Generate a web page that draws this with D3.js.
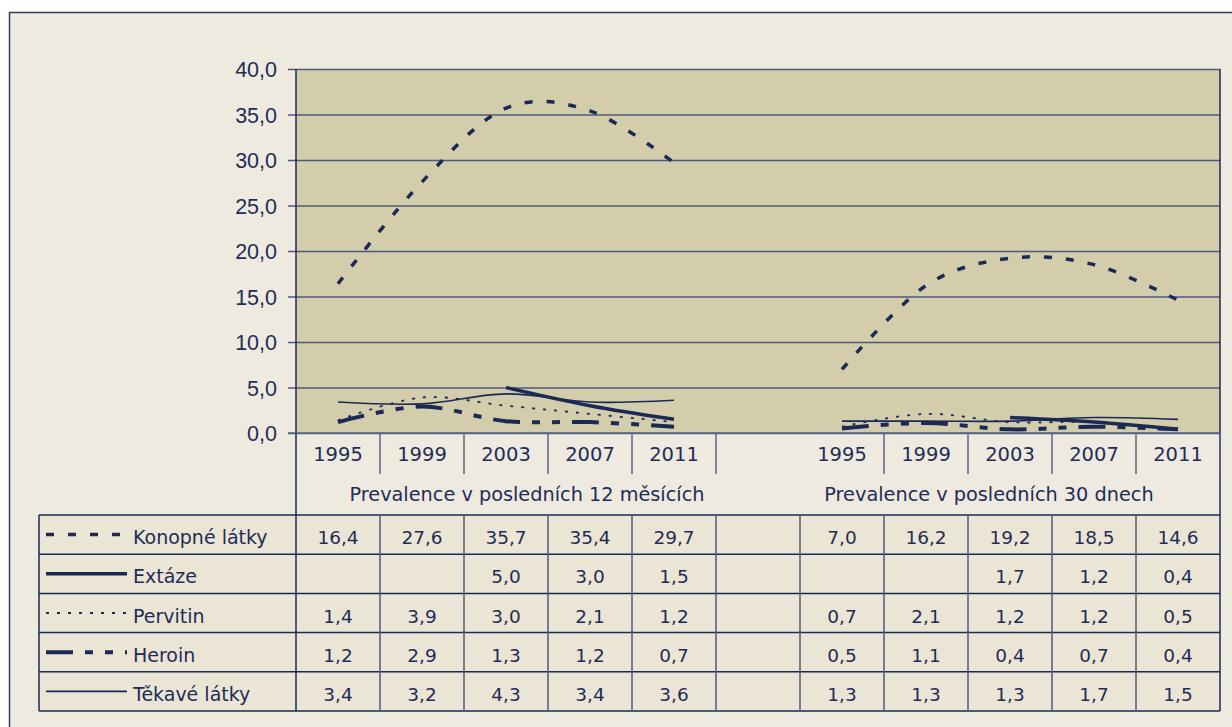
<!DOCTYPE html>
<html>
<head>
<meta charset="utf-8">
<script src="https://cdn.jsdelivr.net/npm/d3@7"></script>
<style>
  body { margin: 0; background: #ffffff; }
  svg { display: block; font-family: "DejaVu Sans", sans-serif; }
</style>
</head>
<body>
<svg id="chart" width="1232" height="727"></svg>
<script>
// data
var years = ["1995", "1999", "2003", "2007", "2011"];
var groups = ["Prevalence v posledních 12 měsících", "Prevalence v posledních 30 dnech"];
var seriesNames = ["Konopné látky", "Extáze", "Pervitin", "Heroin", "Těkavé látky"];

var konopne12 = [16.4, 27.6, 35.7, 35.4, 29.7];
var konopne30 = [7.0, 16.2, 19.2, 18.5, 14.6];
var extaze12 = [null, null, 5.0, 3.0, 1.5];
var extaze30 = [null, null, 1.7, 1.2, 0.4];
var pervitin12 = [1.4, 3.9, 3.0, 2.1, 1.2];
var pervitin30 = [0.7, 2.1, 1.2, 1.2, 0.5];
var heroin12 = [1.2, 2.9, 1.3, 1.2, 0.7];
var heroin30 = [0.5, 1.1, 0.4, 0.7, 0.4];
var tekave12 = [3.4, 3.2, 4.3, 3.4, 3.6];
var tekave30 = [1.3, 1.3, 1.3, 1.7, 1.5];

var yTicks = [0, 5, 10, 15, 20, 25, 30, 35, 40];

// line styles per series
var styles = [
  { width: 3.5, dash: "8,14" },
  { width: 3.5, dash: null },
  { width: 1.8, dash: "3,8" },
  { width: 4, dash: "27,12,8,12,8,12" },
  { width: 1.6, dash: null }
];

var series = [
  [konopne12, konopne30],
  [extaze12, extaze30],
  [pervitin12, pervitin30],
  [heroin12, heroin30],
  [tekave12, tekave30]
];

var navy = "#1a2a55";
var textCol = "#1f2d56";
var fmt = function(v) { return d3.format(".1f")(v).replace(".", ","); };

// category keys: 5 + gap + 5
var keys = [];
years.forEach(function(y) { keys.push("a" + y); });
keys.push("gap");
years.forEach(function(y) { keys.push("b" + y); });

var svg = d3.select("#chart");

// outer frame
svg.append("rect")
  .attr("x", 9.5).attr("y", 12.5)
  .attr("width", 1240).attr("height", 730)
  .attr("fill", "#eeeae0")
  .attr("stroke", "#2c3c62").attr("stroke-width", 1.5);

var x = d3.scaleBand().domain(keys).range([296, 1220]).padding(0);
var y = d3.scaleLinear().domain([0, 40]).range([433, 69]);

// plot background
svg.append("rect")
  .attr("x", x.range()[0]).attr("y", y(40))
  .attr("width", x.range()[1] - x.range()[0])
  .attr("height", y(0) - y(40))
  .attr("fill", "#d3cdac");

// gridlines + y axis
var yAxis = d3.axisLeft(y).tickValues(yTicks).tickFormat(fmt)
  .tickSize(-(x.range()[1] - x.range()[0])).tickPadding(19);
var gy = svg.append("g").attr("transform", "translate(296,0)").call(yAxis);
gy.select(".domain").remove();
gy.selectAll(".tick line")
  .attr("x1", -8)
  .attr("stroke", "#4d5a7a").attr("stroke-width", 1.3);
gy.selectAll(".tick text")
  .attr("fill", textCol).style("font-size", "21.5px")
  .attr("dy", "0.36em");

// plot frame lines
svg.append("line").attr("x1", 296).attr("x2", 296).attr("y1", 69).attr("y2", 515)
  .attr("stroke", navy).attr("stroke-width", 1.5);
svg.append("line").attr("x1", 1220).attr("x2", 1220).attr("y1", 69).attr("y2", 515)
  .attr("stroke", navy).attr("stroke-width", 1.5);
svg.append("line").attr("x1", 288).attr("x2", 1220).attr("y1", 433).attr("y2", 433)
  .attr("stroke", "#5a6580").attr("stroke-width", 1.5);

// category tick separators (no tick before the second group)
var seps = keys.slice(1).map(function(k) { return x(k); }).concat([1220]);
seps = seps.filter(function(s, i) { return keys[i + 1] !== "b1995"; });
svg.selectAll(".sep").data(seps).enter().append("line")
  .attr("x1", function(d) { return d; }).attr("x2", function(d) { return d; })
  .attr("y1", 433).attr("y2", 474)
  .attr("stroke", "#5a6580").attr("stroke-width", 1.5);

// category labels
svg.selectAll(".cat").data(keys.filter(function(k) { return k !== "gap"; }))
  .enter().append("text")
  .attr("x", function(d) { return x(d) + x.bandwidth() / 2; })
  .attr("y", 461)
  .attr("text-anchor", "middle")
  .attr("fill", textCol).style("font-size", "19.5px")
  .text(function(d) { return d.slice(1); });

// group labels, each group takes half the gap
var gapMid = x("gap") + x.bandwidth() / 2;
svg.selectAll(".grp").data(groups).enter().append("text")
  .attr("x", function(d, i) { return i === 0 ? (296 + gapMid) / 2 : (gapMid + 1220) / 2; })
  .attr("y", 501)
  .attr("text-anchor", "middle")
  .attr("fill", textCol).style("font-size", "19.3px")
  .text(function(d) { return d; });

// lines
var line = d3.line()
  .defined(function(d) { return d.v != null; })
  .x(function(d) { return x(d.k) + x.bandwidth() / 2; })
  .y(function(d) { return y(d.v); })
  .curve(d3.curveCatmullRom.alpha(0));

series.forEach(function(s, si) {
  s.forEach(function(vals, gi) {
    var pts = vals.map(function(v, i) { return { k: (gi === 0 ? "a" : "b") + years[i], v: v }; })
      .filter(function(d) { return d.v != null; });
    svg.append("path")
      .datum(pts)
      .attr("d", line)
      .attr("fill", "none")
      .attr("stroke", navy)
      .attr("stroke-width", styles[si].width)
      .attr("stroke-dasharray", styles[si].dash);
  });
});

// data table
var rowTop = 515, rowH = 39.2;
var tbl = svg.append("g");
tbl.append("rect")
  .attr("x", 39).attr("y", rowTop)
  .attr("width", 1220 - 39).attr("height", rowH * 5)
  .attr("fill", "#ebe5d5");

series.forEach(function(s, si) {
  var yc = rowTop + rowH * si + rowH / 2;
  // legend swatch
  tbl.append("line")
    .attr("x1", 46).attr("x2", 127).attr("y1", yc).attr("y2", yc)
    .attr("stroke", navy)
    .attr("stroke-width", styles[si].width)
    .attr("stroke-dasharray", styles[si].dash);
  tbl.append("text")
    .attr("x", 133).attr("y", yc + 9.5)
    .attr("fill", textCol).style("font-size", "19px")
    .text(seriesNames[si]);
  s.forEach(function(vals, gi) {
    vals.forEach(function(v, i) {
      if (v == null) return;
      var k = (gi === 0 ? "a" : "b") + years[i];
      tbl.append("text")
        .attr("x", x(k) + x.bandwidth() / 2)
        .attr("y", yc + 9.5)
        .attr("text-anchor", "middle")
        .attr("fill", textCol).style("font-size", "18.5px")
        .text(fmt(v));
    });
  });
});

// table grid
for (var r = 0; r <= 5; r++) {
  tbl.append("line")
    .attr("x1", 39).attr("x2", 1220)
    .attr("y1", rowTop + rowH * r).attr("y2", rowTop + rowH * r)
    .attr("stroke", navy).attr("stroke-width", 1.5);
}
var cols = [39].concat(keys.map(function(k) { return x(k); })).concat([1220]);
cols.forEach(function(c) {
  tbl.append("line")
    .attr("x1", c).attr("x2", c)
    .attr("y1", rowTop).attr("y2", rowTop + rowH * 5)
    .attr("stroke", c === 39 || c === 296 || c === 1220 ? navy : "#4d5a7a")
    .attr("stroke-width", 1.5);
});
</script>
</body>
</html>
